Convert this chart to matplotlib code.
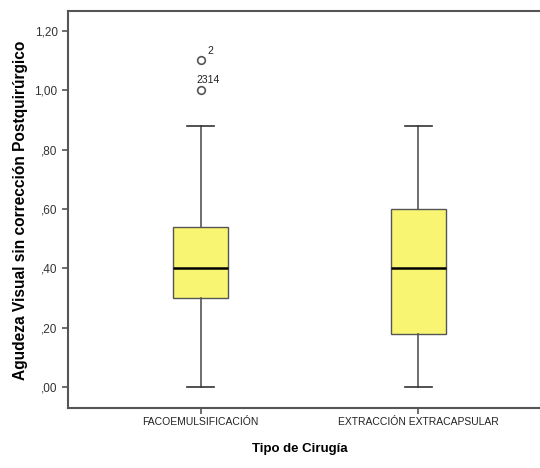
import numpy as np
import matplotlib.pyplot as plt

plt.rcParams['font.family'] = ['Liberation Sans', 'DejaVu Sans']

# datos
categorias = ["FACOEMULSIFICACIÓN", "EXTRACCIÓN EXTRACAPSULAR"]
q1 = [0.30, 0.18]
mediana = [0.40, 0.40]
q3 = [0.54, 0.60]
bigote_inf = [0.00, 0.00]
bigote_sup = [0.88, 0.88]
atipicos = [[1.10, 1.00], []]
etiquetas_atipicos = [["2", "2314"], []]

yticks = [0.0, 0.2, 0.4, 0.6, 0.8, 1.0, 1.2]
ytick_labels = [",00", ",20", ",40", ",60", ",80", "1,00", "1,20"]

stats = []
for i in range(len(categorias)):
    stats.append({
        "med": mediana[i], "q1": q1[i], "q3": q3[i],
        "whislo": bigote_inf[i], "whishi": bigote_sup[i],
        "fliers": atipicos[i], "label": categorias[i],
    })

fig = plt.figure(figsize=(5.4, 4.68), dpi=100)
ax = fig.add_axes([0.126, 0.129, 0.874, 0.848])

gris = "#555555"
ax.bxp(stats, positions=[1, 2], widths=0.253, capwidths=0.124, patch_artist=True,
       boxprops=dict(facecolor="#F8F573", edgecolor=gris, linewidth=1.0),
       medianprops=dict(color="black", linewidth=1.8),
       whiskerprops=dict(color=gris, linewidth=1.2),
       capprops=dict(color="#333333", linewidth=1.2),
       flierprops=dict(marker="o", markerfacecolor="white", markeredgecolor=gris,
                       markersize=5.5, markeredgewidth=1.2))

# etiquetas de los casos atipicos
for i, (vals, labs) in enumerate(zip(atipicos, etiquetas_atipicos)):
    for v, lab in zip(vals, labs):
        if len(lab) == 1:
            ax.annotate(lab, (i + 1, v), xytext=(5, 3), textcoords="offset points",
                        fontsize=7.5, color="#222222", va="bottom", ha="left")
        else:
            ax.annotate(lab, (i + 1, v), xytext=(-3, 4), textcoords="offset points",
                        fontsize=7.5, color="#222222", va="bottom", ha="left")

ax.set_xlim(0.39, 2.56)
ax.set_ylim(-0.0686, 1.267)
ax.set_yticks(yticks)
ax.set_yticklabels(ytick_labels, fontsize=8.5, color="#333333")
ax.set_xticks([1, 2])
ax.set_xticklabels(categorias, fontsize=7.5, color="#222222")
ax.tick_params(axis="both", color=gris, length=4, width=1.2)
ax.tick_params(axis="x", pad=3)

for s in ["left", "bottom", "top"]:
    ax.spines[s].set_color(gris)
    ax.spines[s].set_linewidth(1.5)
ax.spines["right"].set_visible(False)

ax.set_ylabel("Agudeza Visual sin corrección Postquirúrgico", fontsize=11.2,
              fontweight="bold", va="center")
ax.yaxis.set_label_coords(-0.1017, 0.498)
ax.set_xlabel("Tipo de Cirugía", fontsize=9.5, fontweight="bold", va="center")
ax.xaxis.set_label_coords(0.4915, -0.104)

fig.savefig("out.png", dpi=100)
